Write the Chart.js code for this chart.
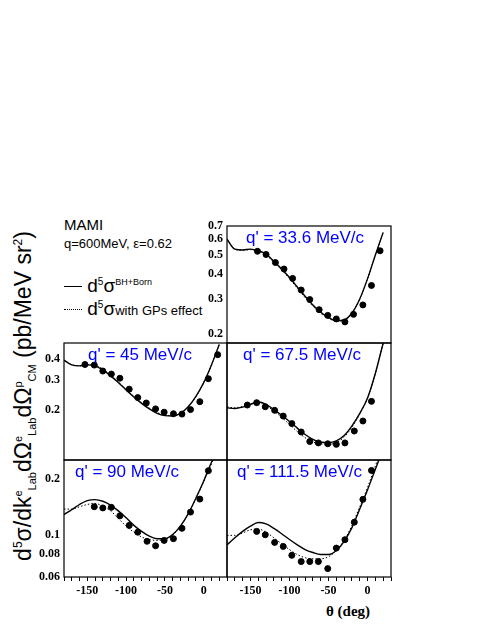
<!DOCTYPE html>
<html>
<head>
<meta charset="utf-8">
<script src="https://cdn.jsdelivr.net/npm/chart.js@4/dist/chart.umd.min.js"></script>
<style>
  body { margin: 0; background: #fff; width: 491px; height: 635px; position: relative; overflow: hidden; }
  canvas { position: absolute; }
  .t { position: absolute; font-family: "Liberation Sans", sans-serif; color: #000; white-space: nowrap; }
  .q { position: absolute; font-family: "Liberation Sans", sans-serif; color: #0000ff; font-size: 17px; white-space: nowrap; }
</style>
</head>
<body>
<div class="t" style="left:64px;top:216px;font-size:15px">MAMI</div>
<div class="t" style="left:64px;top:236px;font-size:13px">q=600MeV, &epsilon;=0.62</div>
<div class="t" style="left:64px;top:275px;font-size:19px"><span style="display:inline-block;width:18px;border-top:1.3px solid #000;vertical-align:middle"></span> d<sup style="font-size:10px">5</sup>&sigma;<sup style="font-size:9px">BH+Born</sup></div>
<div class="t" style="left:64px;top:298px;font-size:19px"><span style="display:inline-block;width:18px;border-top:1.3px dotted #000;vertical-align:middle"></span> d<sup style="font-size:10px">5</sup>&sigma;<span style="font-size:13px">with GPs effect</span></div>
<div class="t" style="left:24px;top:396px;font-size:23px;transform:translate(-50%,-50%) rotate(-90deg)">d<sup style="font-size:12px">5</sup>&sigma;/dk<sup style="font-size:11px">e</sup><sub style="font-size:11px">Lab</sub>d&Omega;<sup style="font-size:11px">e</sup><sub style="font-size:11px">Lab</sub>d&Omega;<sup style="font-size:11px">p</sup><sub style="font-size:11px">CM</sub> (pb/MeV sr<sup style="font-size:12px">2</sup>)</div>
<div class="t" style="left:326px;top:603px;font-size:15px;font-weight:bold;font-family:'Liberation Serif',serif">&theta; (deg)</div>

<canvas id="p1"></canvas>
<canvas id="p2"></canvas>
<canvas id="p3"></canvas>
<canvas id="p4"></canvas>
<canvas id="p5"></canvas>

<div class="q" style="left:246px;top:228px">q' = 33.6 MeV/c</div>
<div class="q" style="left:88px;top:345px">q' = 45 MeV/c</div>
<div class="q" style="left:243px;top:345px">q' = 67.5 MeV/c</div>
<div class="q" style="left:75px;top:462px">q' = 90 MeV/c</div>
<div class="q" style="left:237px;top:462px">q' = 111.5 MeV/c</div>

<script>
// curve angles
const curveTheta = [-180, -170, -160, -150, -140, -130, -120, -110, -100, -90, -80, -70, -60, -50, -40, -30, -20, -10, 0, 10, 20];

// q' = 33.6 MeV/c
const theta1 = [-141, -130, -118, -107, -96, -85, -74, -62, -51, -40, -29, -18, -6, 5, 16];
const data1 = [0.522, 0.503, 0.458, 0.425, 0.381, 0.333, 0.298, 0.265, 0.248, 0.238, 0.230, 0.251, 0.280, 0.351, 0.525];
const born1 = [0.60, 0.535, 0.53, 0.535, 0.525, 0.505, 0.465, 0.425, 0.385, 0.345, 0.31, 0.28, 0.257, 0.242, 0.233, 0.235, 0.255, 0.30, 0.38, 0.50, 0.65];
const gps1 = [0.60, 0.535, 0.528, 0.532, 0.522, 0.50, 0.46, 0.42, 0.38, 0.34, 0.305, 0.276, 0.254, 0.24, 0.232, 0.235, 0.255, 0.30, 0.38, 0.50, 0.65];

// q' = 45 MeV/c
const theta2 = [-153, -141, -130, -119, -108, -96, -85, -74, -62, -51, -39, -28, -17, -5, 6, 18];
const data2 = [0.372, 0.369, 0.340, 0.326, 0.308, 0.265, 0.236, 0.219, 0.202, 0.193, 0.189, 0.188, 0.200, 0.223, 0.306, 0.426];
const born2 = [0.395, 0.37, 0.365, 0.37, 0.365, 0.345, 0.318, 0.29, 0.262, 0.238, 0.218, 0.202, 0.19, 0.184, 0.183, 0.19, 0.208, 0.24, 0.29, 0.37, 0.49];
const gps2 = [0.395, 0.37, 0.366, 0.372, 0.368, 0.35, 0.322, 0.293, 0.264, 0.24, 0.22, 0.204, 0.192, 0.186, 0.184, 0.19, 0.208, 0.24, 0.29, 0.37, 0.49];

// q' = 67.5 MeV/c
const theta3 = [-154, -142, -131, -119, -108, -97, -85, -74, -63, -51, -40, -29, -17, -6, 5];
const data3 = [0.213, 0.220, 0.208, 0.198, 0.183, 0.165, 0.147, 0.129, 0.1265, 0.125, 0.124, 0.1265, 0.149, 0.171, 0.224];
const born3 = [0.205, 0.203, 0.207, 0.215, 0.222, 0.215, 0.20, 0.185, 0.17, 0.155, 0.142, 0.133, 0.128, 0.127, 0.13, 0.14, 0.16, 0.19, 0.235, 0.33, 0.50];
const gps3 = [0.208, 0.205, 0.209, 0.216, 0.222, 0.212, 0.196, 0.18, 0.163, 0.148, 0.136, 0.128, 0.125, 0.124, 0.127, 0.137, 0.157, 0.188, 0.235, 0.33, 0.50];

// q' = 90 MeV/c
const theta4 = [-141, -130, -119, -108, -96, -85, -73, -62, -51, -39, -28, -17, -5, 6];
const data4 = [0.142, 0.140, 0.141, 0.127, 0.113, 0.104, 0.093, 0.088, 0.094, 0.096, 0.109, 0.133, 0.156, 0.221];
const born4 = [0.129, 0.137, 0.146, 0.153, 0.155, 0.152, 0.145, 0.135, 0.124, 0.113, 0.105, 0.099, 0.096, 0.096, 0.101, 0.112, 0.13, 0.158, 0.195, 0.245, 0.30];
const gps4 = [0.138, 0.138, 0.142, 0.146, 0.148, 0.143, 0.135, 0.123, 0.112, 0.104, 0.098, 0.095, 0.094, 0.095, 0.10, 0.112, 0.13, 0.157, 0.193, 0.24, 0.30];

// q' = 111.5 MeV/c
const theta5 = [-142, -131, -119, -108, -97, -85, -74, -63, -51, -40, -29, -17, -6, 5];
const data5 = [0.105, 0.1007, 0.0917, 0.0873, 0.0783, 0.0725, 0.0725, 0.0725, 0.0665, 0.0855, 0.0948, 0.1175, 0.1555, 0.2217];
const born5 = [0.089, 0.097, 0.105, 0.112, 0.117, 0.115, 0.109, 0.102, 0.095, 0.089, 0.084, 0.081, 0.079, 0.079, 0.083, 0.093, 0.11, 0.138, 0.175, 0.225, 0.29];
const gps5 = [0.10, 0.10, 0.103, 0.107, 0.108, 0.104, 0.097, 0.09, 0.084, 0.079, 0.076, 0.075, 0.075, 0.077, 0.083, 0.094, 0.113, 0.142, 0.18, 0.235, 0.30];

// labelled y ticks
const yTicks1 = [0.2, 0.3, 0.4, 0.5, 0.6, 0.7];
const yTicks2 = [0.2, 0.3, 0.4];
const yTicks3 = [0.06, 0.08, 0.1, 0.2];
const xTicks = [-180, -170, -160, -150, -140, -130, -120, -110, -100, -90, -80, -70, -60, -50, -40, -30, -20, -10, 0, 10, 20, 30];

const LEFT = 40, PADT = 8, PADR = 2;

const framePlugin = {
  id: 'frame',
  afterDraw(chart) {
    const a = chart.chartArea, c = chart.ctx;
    c.save();
    c.strokeStyle = '#000';
    c.lineWidth = 1.2;
    c.strokeRect(a.left, a.top, a.right - a.left, a.bottom - a.top);
    c.restore();
  }
};

function pairs(xs, ys) {
  return xs.map((x, i) => ({ x, y: ys[i] }));
}

function noPad(s) {
  s.paddingTop = 0;
  s.paddingBottom = 0;
  s.paddingLeft = 0;
  s.paddingRight = 0;
}

function makePanel(id, rect, yRange, yLabels, showY, showX, theta, data, born, gps) {
  const bottomH = showX ? 30 : 0;
  const padB = showX ? 0 : 8;
  const cv = document.getElementById(id);
  const W = LEFT + rect.w + PADR, H = PADT + rect.h + bottomH + padB;
  cv.width = W;
  cv.height = H;
  cv.style.left = (rect.x - LEFT) + 'px';
  cv.style.top = (rect.y - PADT) + 'px';
  cv.style.width = W + 'px';
  cv.style.height = H + 'px';
  const tickFont = { family: 'Liberation Serif', size: 12, weight: 'bold' };
  return new Chart(cv, {
    type: 'scatter',
    data: {
      datasets: [
        {
          label: 'GPs',
          type: 'line',
          data: pairs(curveTheta, gps),
          borderColor: '#000',
          borderWidth: 1,
          borderDash: [1.5, 2],
          pointRadius: 0,
          cubicInterpolationMode: 'monotone'
        },
        {
          label: 'BH+Born',
          type: 'line',
          data: pairs(curveTheta, born),
          borderColor: '#000',
          borderWidth: 1.4,
          pointRadius: 0,
          cubicInterpolationMode: 'monotone'
        },
        {
          label: 'data',
          data: pairs(theta, data),
          backgroundColor: '#000',
          borderColor: '#000',
          pointRadius: 3
        }
      ]
    },
    options: {
      responsive: false,
      maintainAspectRatio: false,
      animation: false,
      devicePixelRatio: 1,
      layout: { autoPadding: false, padding: { top: PADT, right: PADR, left: 0, bottom: padB } },
      plugins: { legend: { display: false }, tooltip: { enabled: false } },
      scales: {
        x: {
          type: 'linear',
          min: -180,
          max: 30,
          afterBuildTicks: s => { s.ticks = xTicks.map(v => ({ value: v })); },
          afterFit: s => { s.height = bottomH; noPad(s); },
          grid: { drawOnChartArea: false, drawTicks: showX, tickLength: 4, color: '#000' },
          border: { display: false },
          ticks: {
            display: showX,
            autoSkip: false,
            maxRotation: 0,
            color: '#000',
            font: tickFont,
            callback: v => (v % 50 === 0 && v >= -150 && v <= 0) ? String(v) : ''
          }
        },
        y: {
          type: 'logarithmic',
          min: yRange[0],
          max: yRange[1],
          afterBuildTicks: s => { s.ticks = yLabels.map(v => ({ value: v })); },
          afterFit: s => { s.width = LEFT; noPad(s); },
          grid: { drawOnChartArea: false, drawTicks: false },
          border: { display: false },
          ticks: {
            display: showY,
            padding: 4,
            color: '#000',
            font: tickFont,
            callback: v => String(v)
          }
        }
      }
    },
    plugins: [framePlugin]
  });
}

makePanel('p1', { x: 227, y: 226, w: 164, h: 117 }, [0.18, 0.7], yTicks1, true, false, theta1, data1, born1, gps1);
makePanel('p2', { x: 64, y: 343, w: 163, h: 117 }, [0.1, 0.5], yTicks2, true, false, theta2, data2, born2, gps2);
makePanel('p3', { x: 227, y: 343, w: 164, h: 117 }, [0.1, 0.5], yTicks2, false, false, theta3, data3, born3, gps3);
makePanel('p4', { x: 64, y: 460, w: 163, h: 117 }, [0.06, 0.252], yTicks3, true, true, theta4, data4, born4, gps4);
makePanel('p5', { x: 227, y: 460, w: 164, h: 117 }, [0.06, 0.252], yTicks3, false, true, theta5, data5, born5, gps5);
</script>
</body>
</html>
